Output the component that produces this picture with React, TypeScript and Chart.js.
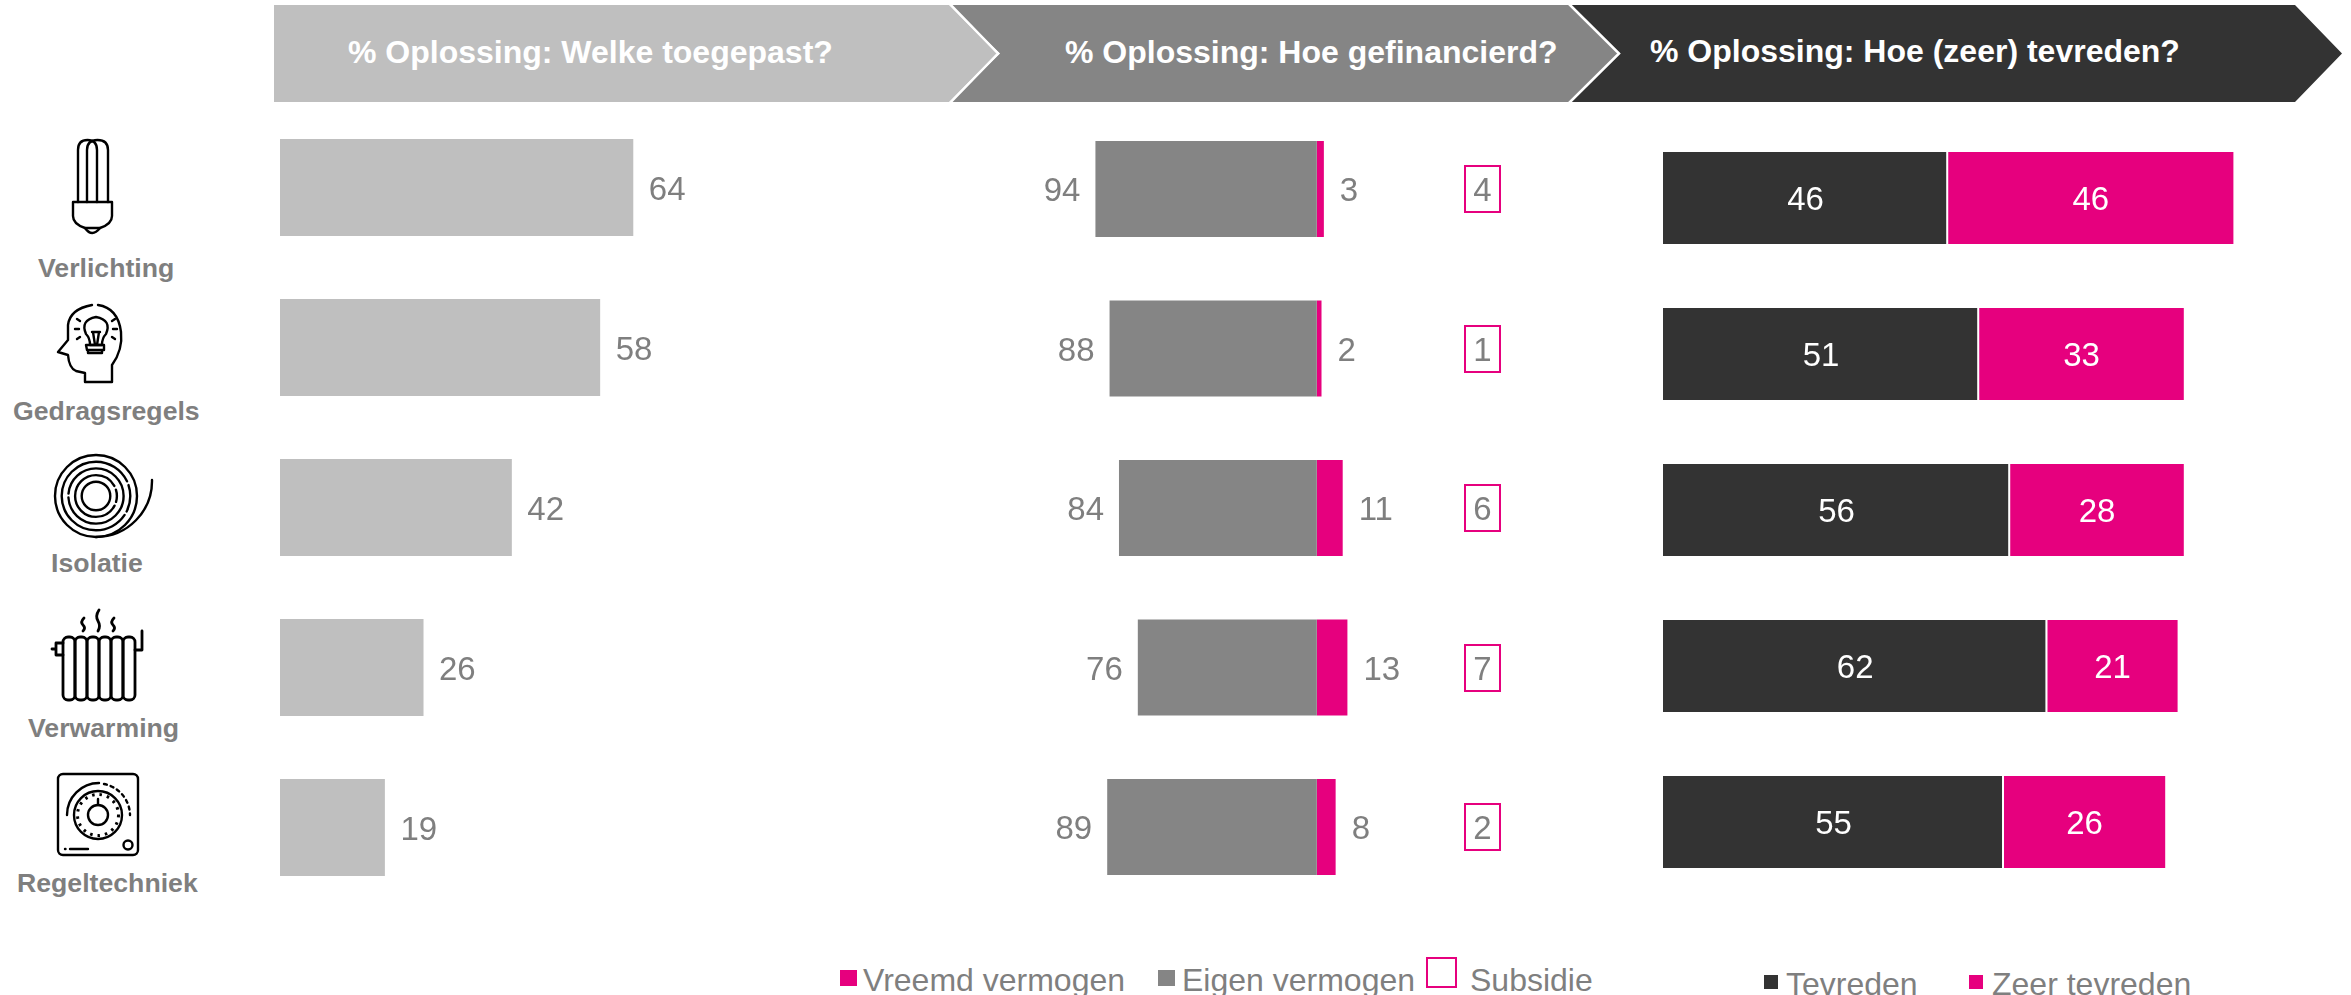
import React, { useEffect, useRef } from "react";
import { Chart, registerables } from "chart.js";

Chart.register(...registerables);

const categories = ["Verlichting", "Gedragsregels", "Isolatie", "Verwarming", "Regeltechniek"];
const toegepast = [64, 58, 42, 26, 19];
const eigenVermogen = [94, 88, 84, 76, 89];
const vreemdVermogen = [3, 2, 11, 13, 8];
const subsidie = [4, 1, 6, 7, 2];
const tevreden = [46, 51, 56, 62, 55];
const zeerTevreden = [46, 33, 28, 21, 26];

const headers = ["% Oplossing: Welke toegepast?", "% Oplossing: Hoe gefinancierd?", "% Oplossing: Hoe (zeer) tevreden?"];

const PINK = "#E6007E";
const LIGHT = "#BFBFBF";
const MID = "#858585";
const DARK = "#333333";
const TEXT = "#7F7F7F";
const FONT = '"Liberation Sans", Arial, sans-serif';
const LABEL_FONT = `33px ${FONT}`;

const labelsPlugin = (draw: (chart: any, ctx: CanvasRenderingContext2D) => void) => ({
  id: "valueLabels",
  afterDatasetsDraw(chart: any) {
    const ctx = chart.ctx;
    ctx.save();
    ctx.font = LABEL_FONT;
    ctx.textBaseline = "middle";
    draw(chart, ctx);
    ctx.restore();
  },
});

function baseOptions(min: number, max: number, padY: number) {
  return {
    indexAxis: "y" as const,
    responsive: false,
    animation: false as const,
    layout: { padding: { top: padY, bottom: padY, left: 0, right: 0 } },
    plugins: { legend: { display: false }, tooltip: { enabled: false }, title: { display: false } },
    scales: {
      x: { display: false, stacked: true, min, max },
      y: { display: false, stacked: true },
    },
  };
}

function useChart(build: (canvas: HTMLCanvasElement) => Chart) {
  const ref = useRef<HTMLCanvasElement | null>(null);
  useEffect(() => {
    if (!ref.current) return;
    const chart = build(ref.current);
    return () => chart.destroy();
  }, []);
  return ref;
}

function Canvas({ r, left, top, width, height }: any) {
  return <canvas ref={r} width={width} height={height} style={{ position: "absolute", left, top, width, height }} />;
}

function Panel1() {
  const r = useChart((c) =>
    new Chart(c, {
      type: "bar",
      data: {
        labels: categories,
        datasets: [{ label: "Toegepast", data: toegepast, backgroundColor: LIGHT, categoryPercentage: 1, barPercentage: 97 / 160 }],
      },
      options: baseOptions(0, 560 / 5.52, 0.5) as any,
      plugins: [
        labelsPlugin((chart, ctx) => {
          ctx.fillStyle = TEXT;
          ctx.textAlign = "left";
          chart.getDatasetMeta(0).data.forEach((b: any, i: number) => {
            ctx.fillText(String(toegepast[i]), b.x + 15.5, b.y + 3);
          });
        }),
      ],
    })
  );
  return <Canvas r={r} left={280} top={107} width={560} height={801} />;
}

function Panel2() {
  const r = useChart((c) =>
    new Chart(c, {
      type: "bar",
      data: {
        labels: categories,
        datasets: [
          { label: "Eigen vermogen", data: eigenVermogen.map((v) => -v), backgroundColor: MID, categoryPercentage: 1, barPercentage: 96 / 159.5 },
          { label: "Vreemd vermogen", data: vreemdVermogen, backgroundColor: PINK, categoryPercentage: 1, barPercentage: 96 / 159.5 },
        ],
      },
      options: baseOptions(-316.8 / 2.355, 283.2 / 2.355, 0.25) as any,
      plugins: [
        labelsPlugin((chart, ctx) => {
          const xs = chart.scales.x;
          ctx.fillStyle = TEXT;
          chart.getDatasetMeta(0).data.forEach((b: any, i: number) => {
            ctx.textAlign = "right";
            ctx.fillText(String(eigenVermogen[i]), b.x - 15, b.y + 3);
          });
          chart.getDatasetMeta(1).data.forEach((b: any, i: number) => {
            ctx.textAlign = "left";
            ctx.fillText(String(vreemdVermogen[i]), b.x + 16, b.y + 3);
            const cx = xs.getPixelForValue(70.3);
            ctx.textAlign = "center";
            ctx.fillText(String(subsidie[i]), cx, b.y + 3);
            ctx.strokeStyle = PINK;
            ctx.lineWidth = 2;
            ctx.strokeRect(Math.round(cx - 17.5), Math.round(b.y - 23), 35, 46);
          });
        }),
      ],
    })
  );
  return <Canvas r={r} left={1000} top={109} width={600} height={798} />;
}

function Panel3() {
  const r = useChart((c) =>
    new Chart(c, {
      type: "bar",
      data: {
        labels: categories,
        datasets: [
          { label: "Tevreden", data: tevreden, backgroundColor: DARK, categoryPercentage: 1, barPercentage: 92 / 156, borderColor: "#FFFFFF", borderWidth: { right: 2, left: 0, top: 0, bottom: 0 }, borderSkipped: false },
          { label: "Zeer tevreden", data: zeerTevreden, backgroundColor: PINK, categoryPercentage: 1, barPercentage: 92 / 156 },
        ],
      },
      options: baseOptions(0, 680 / 6.2, 0) as any,
      plugins: [
        labelsPlugin((chart, ctx) => {
          ctx.fillStyle = "#FFFFFF";
          ctx.textAlign = "center";
          chart.getDatasetMeta(0).data.forEach((b: any, i: number) => {
            ctx.fillText(String(tevreden[i]), (b.x + b.base) / 2, b.y + 3);
          });
          chart.getDatasetMeta(1).data.forEach((b: any, i: number) => {
            ctx.fillText(String(zeerTevreden[i]), (b.x + b.base) / 2, b.y + 3);
          });
        }),
      ],
    })
  );
  return <Canvas r={r} left={1663} top={120} width={680} height={780} />;
}

function T({ x, cy, size = 32, bold = false, color = TEXT, children }: any) {
  return (
    <div
      style={{
        position: "absolute",
        left: x,
        top: cy - size / 2,
        height: size,
        lineHeight: `${size}px`,
        fontSize: size,
        fontFamily: FONT,
        fontWeight: bold ? 700 : 400,
        color,
        whiteSpace: "nowrap",
      }}
    >
      {children}
    </div>
  );
}

function Swatch({ x, y, w, h, color }: any) {
  return <div style={{ position: "absolute", left: x, top: y, width: w, height: h, background: color }} />;
}

function HeaderBand() {
  return (
    <svg width={2351} height={110} style={{ position: "absolute", left: 0, top: 0 }}>
      <polygon points="1571,5 2295,5 2342,53.5 2295,102 1571,102 1620,53.5" fill={DARK} />
      <polygon points="950,5 1569,5 1619,53.5 1569,102 950,102 1000,53.5" fill={MID} />
      <polyline points="1569,4 1619,53.5 1569,103" fill="none" stroke="#FFFFFF" strokeWidth={2.5} />
      <polygon points="274,5 949,5 997,53.5 949,102 274,102" fill={LIGHT} />
      <polyline points="950,4 998,53.5 950,103" fill="none" stroke="#FFFFFF" strokeWidth={2.5} />
    </svg>
  );
}

function Icons() {
  const s = { fill: "none", stroke: "#000", strokeWidth: 2.4, strokeLinecap: "round" as const, strokeLinejoin: "round" as const };
  return (
    <svg width={210} height={880} style={{ position: "absolute", left: 0, top: 0 }}>
      {/* bulb */}
      <g {...s}>
        <path d="M78 202V150Q78 140 87.5 140Q97 140 97 150V202" />
        <path d="M87 202V150Q87 140 97.5 140Q108 140 108 150V202" />
        <path d="M73 202H112V216Q112 224 100 228H85Q73 224 73 216Z" />
        <path d="M85 228Q92 238 100 228" />
      </g>
      {/* head */}
      <g {...s}>
        <path d="M98 305Q118 308 121 332Q123 350 112 365V382H85V373L76 371Q69 368 68 355L58 352L68 340V325Q70 309 92 305" />
        <path d="M90 345Q90 338 86 334Q80 320 96 317Q112 320 106 334Q102 338 102 345Z" />
        <path d="M86 345H104V350H87ZM88 350V353H102V350M93 332L95 345M99 332L97 345M92 332H100" />
        <path d="M77 319l3 2M115 319l-3 2M75 329h4M117 329h-4M77 339l3-2M115 339l-3-2" />
      </g>
      {/* coil */}
      <g {...s}>
        <circle cx={96} cy={496} r={41} />
        <circle cx={96} cy={496} r={34.3} strokeDasharray="180 4" strokeDashoffset={-20} />
        <circle cx={96} cy={496} r={27.6} strokeDasharray="145 4" strokeDashoffset={60} />
        <circle cx={96} cy={496} r={20.9} strokeDasharray="110 4" strokeDashoffset={-10} />
        <circle cx={96} cy={496} r={14.3} />
        <path d="M152 480A56 56 0 0 1 96 537" />
      </g>
      {/* radiator */}
      <g {...s} strokeWidth={2.8}>
        <rect x={63} y={637} width={12} height={63} rx={5} />
        <rect x={75} y={637} width={12} height={63} rx={5} />
        <rect x={87} y={637} width={12} height={63} rx={5} />
        <rect x={99} y={637} width={12} height={63} rx={5} />
        <rect x={111} y={637} width={12} height={63} rx={5} />
        <rect x={123} y={637} width={12} height={63} rx={5} />
        <path d="M63 643H56V655H63M56 649H52M135 650H142V631" />
        <path d="M84 618Q80 622 83 625Q86 628 83 631" />
        <path d="M99 610Q95 616 98 621Q101 626 98 631" />
        <path d="M114 618Q110 622 113 625Q116 628 113 631" />
      </g>
      {/* thermostat */}
      <g {...s}>
        <rect x={58} y={774} width={80} height={81} rx={5} />
        <circle cx={98} cy={815} r={10} />
        <circle cx={98} cy={815} r={24} />
        <circle cx={98} cy={815} r={20.5} strokeDasharray="2.5 5" strokeWidth={3} strokeLinecap="butt" />
        <path d="M98 799V805" />
        <path d="M67 815A32 32 0 0 1 99 783" />
        <path d="M104 784A32 32 0 0 1 130 815" strokeDasharray="3 4" />
        <circle cx={128} cy={845} r={4.5} />
        <path d="M70 849H88M65 849H65.5" />
      </g>
    </svg>
  );
}

const catLabelPos = [
  { x: 38, cy: 268.5 },
  { x: 13, cy: 411.5 },
  { x: 51, cy: 563.5 },
  { x: 28, cy: 728.5 },
  { x: 17, cy: 883.5 },
];

export default function App() {
  return (
    <div style={{ position: "fixed", left: 0, top: 0, width: 2351, height: 995, background: "#FFFFFF", overflow: "hidden" }}>
      <HeaderBand />
      <T x={348} cy={52} bold color="#FFFFFF">{headers[0]}</T>
      <T x={1065} cy={52} bold color="#FFFFFF">{headers[1]}</T>
      <T x={1650} cy={51} bold color="#FFFFFF">{headers[2]}</T>
      <Icons />
      {categories.map((c, i) => (
        <T key={c} x={catLabelPos[i].x} cy={catLabelPos[i].cy} size={26.67} bold>{c}</T>
      ))}
      <Panel1 />
      <Panel2 />
      <Panel3 />
      <Swatch x={840} y={970} w={17} h={16} color={PINK} />
      <T x={863} cy={980}>Vreemd vermogen</T>
      <Swatch x={1158} y={970} w={17} h={16} color={MID} />
      <T x={1182} cy={980}>Eigen vermogen</T>
      <div style={{ position: "absolute", left: 1426, top: 957, width: 31, height: 31, border: `2.5px solid ${PINK}`, boxSizing: "border-box" }} />
      <T x={1470} cy={980}>Subsidie</T>
      <Swatch x={1764} y={975} w={14} h={14} color={DARK} />
      <T x={1786} cy={984}>Tevreden</T>
      <Swatch x={1969} y={975} w={14} h={14} color={PINK} />
      <T x={1992} cy={984}>Zeer tevreden</T>
    </div>
  );
}
